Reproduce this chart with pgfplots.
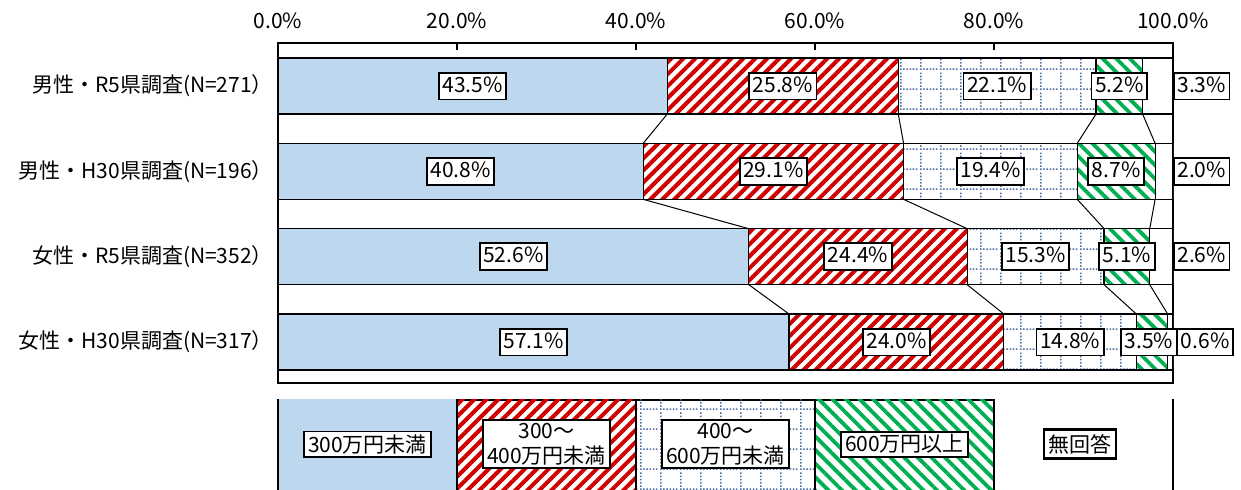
\documentclass[border=0pt]{standalone}
\usepackage{fontspec}
\setmainfont{Noto Sans CJK JP}
\usepackage{pgfplots}
\pgfplotsset{compat=1.18}
\usetikzlibrary{patterns,patterns.meta}

\definecolor{barblue}{HTML}{BDD7EE}
\definecolor{stripered}{HTML}{D00000}
\definecolor{stripegreen}{HTML}{00B050}
\definecolor{dotblue}{HTML}{4A6FA0}

\pgfdeclarepatternformonly{dotgrid}{\pgfqpoint{0pt}{0pt}}{\pgfqpoint{10pt}{10pt}}{\pgfqpoint{10pt}{10pt}}{%
  \pgfpathrectangle{\pgfqpoint{0pt}{0pt}}{\pgfqpoint{0.8pt}{0.8pt}}%
  \pgfpathrectangle{\pgfqpoint{1.667pt}{0pt}}{\pgfqpoint{0.8pt}{0.8pt}}%
  \pgfpathrectangle{\pgfqpoint{3.333pt}{0pt}}{\pgfqpoint{0.8pt}{0.8pt}}%
  \pgfpathrectangle{\pgfqpoint{5pt}{0pt}}{\pgfqpoint{0.8pt}{0.8pt}}%
  \pgfpathrectangle{\pgfqpoint{6.667pt}{0pt}}{\pgfqpoint{0.8pt}{0.8pt}}%
  \pgfpathrectangle{\pgfqpoint{8.333pt}{0pt}}{\pgfqpoint{0.8pt}{0.8pt}}%
  \pgfpathrectangle{\pgfqpoint{0pt}{1.667pt}}{\pgfqpoint{0.8pt}{0.8pt}}%
  \pgfpathrectangle{\pgfqpoint{0pt}{3.333pt}}{\pgfqpoint{0.8pt}{0.8pt}}%
  \pgfpathrectangle{\pgfqpoint{0pt}{5pt}}{\pgfqpoint{0.8pt}{0.8pt}}%
  \pgfpathrectangle{\pgfqpoint{0pt}{6.667pt}}{\pgfqpoint{0.8pt}{0.8pt}}%
  \pgfpathrectangle{\pgfqpoint{0pt}{8.333pt}}{\pgfqpoint{0.8pt}{0.8pt}}%
  \pgfusepath{fill}}

\tikzset{
  redpat/.style={pattern={Lines[angle=45,distance=4.24pt,line width=2pt]}, pattern color=stripered},
  greenpat/.style={pattern={Lines[angle=-45,distance=4.8pt,line width=1.9pt]}, pattern color=stripegreen},
  bluepat/.style={pattern=dotgrid, pattern color=dotblue},
  lbl/.style={draw=black, fill=white, line width=0.9pt, inner xsep=1.8pt, inner ysep=1.8pt,
              text height=8pt, text depth=1.8pt, font=\fontsize{10.5}{12.5}\selectfont,
              postaction={draw=black, line width=0.9pt}},
  lglbl/.style={draw=black, fill=white, line width=0.9pt, inner xsep=2pt, inner ysep=1.5pt,
              align=center, font=\fontsize{10.5}{12.5}\selectfont,
              postaction={draw=black, line width=0.9pt}},
}

\pgfplotstableread{
x y v
21.75 0 43.5
56.4 0 25.8
80.35 0 22.1
94.0 0 5.2
103.2 0 3.3
20.4 1 40.8
55.35 1 29.1
79.6 1 19.4
93.65 1 8.7
103.2 1 2.0
26.3 2 52.6
64.8 2 24.4
84.65 2 15.3
94.85 2 5.1
103.2 2 2.6
28.55 3 57.1
69.1 3 24.0
88.5 3 14.8
97.3 3 3.5
103.6 3 0.6
}\labeltable

\begin{document}
\begin{tikzpicture}
\path[use as bounding box] (0,0) rectangle (620.5pt,-245pt);

\begin{axis}[
  at={(139pt,-191.5pt)}, anchor=south west,
  scale only axis, width=447.5pt, height=170pt,
  xbar stacked, bar width=28pt,
  xmin=0, xmax=100, ymin=-0.504, ymax=3.48, y dir=reverse,
  xtick={0,20,40,60,80,100},
  xticklabels={0.0\%,20.0\%,40.0\%,60.0\%,80.0\%,100.0\%},
  xtick pos=right, xticklabel pos=right,
  xticklabel style={yshift=3.5pt},
  ytick={0,1,2,3},
  yticklabels={男性・R5県調査(N=271）,男性・H30県調査(N=196）,女性・R5県調査(N=352）,女性・H30県調査(N=317）},
  ytick style={draw=none},
  yticklabel style={xshift=1pt},
  tick align=inside, major tick length=3.5pt,
  xtick style={black, line width=0.7pt},
  axis line style={black, line width=1pt},
  tick label style={font=\fontsize{10.5}{12.5}\selectfont},
  every axis plot/.append style={draw=black, line width=0.6pt},
]
\addplot[fill=barblue] coordinates {(43.5,0) (40.8,1) (52.6,2) (57.1,3)};
\addplot[redpat] coordinates {(25.8,0) (29.1,1) (24.4,2) (24.0,3)};
\addplot[bluepat] coordinates {(22.1,0) (19.4,1) (15.3,2) (14.8,3)};
\addplot[greenpat] coordinates {(5.2,0) (8.7,1) (5.1,2) (3.5,3)};
\addplot[fill=white] coordinates {(3.3,0) (2.0,1) (2.6,2) (0.6,3)};
\end{axis}

\begin{axis}[
  at={(139pt,-191.5pt)}, anchor=south west,
  scale only axis, width=447.5pt, height=170pt,
  xmin=0, xmax=100, ymin=-0.504, ymax=3.48, y dir=reverse,
  hide axis, clip=false,
]
\addplot[black, line width=0.5pt] coordinates {(43.5,0.328) (40.8,0.672)};
\addplot[black, line width=0.5pt] coordinates {(69.3,0.328) (69.9,0.672)};
\addplot[black, line width=0.5pt] coordinates {(91.4,0.328) (89.3,0.672)};
\addplot[black, line width=0.5pt] coordinates {(96.6,0.328) (98.0,0.672)};
\addplot[black, line width=0.5pt] coordinates {(40.8,1.328) (52.6,1.672)};
\addplot[black, line width=0.5pt] coordinates {(69.9,1.328) (77.0,1.672)};
\addplot[black, line width=0.5pt] coordinates {(89.3,1.328) (92.3,1.672)};
\addplot[black, line width=0.5pt] coordinates {(98.0,1.328) (97.4,1.672)};
\addplot[black, line width=0.5pt] coordinates {(52.6,2.328) (57.1,2.672)};
\addplot[black, line width=0.5pt] coordinates {(77.0,2.328) (81.1,2.672)};
\addplot[black, line width=0.5pt] coordinates {(92.3,2.328) (95.9,2.672)};
\addplot[black, line width=0.5pt] coordinates {(97.4,2.328) (99.4,2.672)};
\addplot[draw=none, mark=none, point meta=explicit symbolic,
  nodes near coords={\pgfplotspointmeta\%},
  every node near coord/.append style={lbl, anchor=center}]
  table[x=x, y=y, meta=v] {\labeltable};
\end{axis}

\begin{axis}[
  at={(139pt,-246pt)}, anchor=south west,
  scale only axis, width=447.5pt, height=46pt,
  xbar stacked, bar width=50pt,
  xmin=0, xmax=100, ymin=-0.5, ymax=0.5,
  ticks=none,
  axis line style={black, line width=1pt},
  every axis plot/.append style={draw=black, line width=0.6pt},
]
\addplot[fill=barblue] coordinates {(20,0)};
\addplot[redpat] coordinates {(20,0)};
\addplot[bluepat] coordinates {(20,0)};
\addplot[greenpat] coordinates {(20,0)};
\addplot[fill=white] coordinates {(20,0)};
\end{axis}

\begin{axis}[
  at={(139pt,-246pt)}, anchor=south west,
  scale only axis, width=447.5pt, height=46pt,
  xmin=0, xmax=100, ymin=-0.5, ymax=0.5,
  hide axis, clip=false,
]
\addplot[draw=none, mark=none, point meta=explicit symbolic,
  nodes near coords,
  every node near coord/.append style={lglbl, anchor=center}]
  coordinates {(10,0.02) [300万円未満] (30,0.02) [{300～\\400万円未満}] (50,0.02) [{400～\\600万円未満}] (70,0.02) [600万円以上]};
\coordinate (nk) at (axis cs:89.6,0.02);
\end{axis}
\node[lglbl, minimum height=14.2pt] (nkn) at (nk) {無回答};
\draw[black, line width=0.9pt] (nkn.south west) rectangle (nkn.north east);
\end{tikzpicture}
\end{document}
